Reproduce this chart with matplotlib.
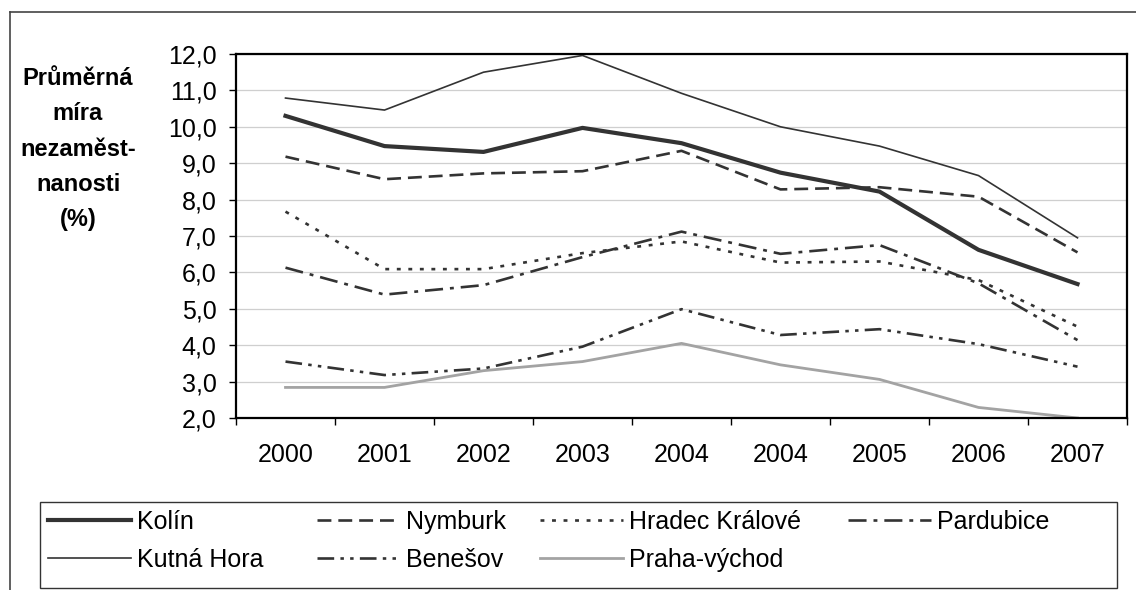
import matplotlib
matplotlib.use("Agg")
import matplotlib.pyplot as plt
from matplotlib.lines import Line2D
from matplotlib.patches import Rectangle
from matplotlib.ticker import FuncFormatter, FixedLocator

# ---- data ----
years = ["2000", "2001", "2002", "2003", "2004", "2004", "2005", "2006", "2007"]
kolin = [10.30, 9.47, 9.31, 9.97, 9.55, 8.74, 8.22, 6.62, 5.68]
kutna_hora = [10.79, 10.46, 11.50, 11.96, 10.92, 10.00, 9.47, 8.66, 6.95]
nymburk = [9.18, 8.56, 8.72, 8.78, 9.34, 8.28, 8.34, 8.08, 6.55]
benesov = [3.55, 3.18, 3.36, 3.96, 4.99, 4.28, 4.44, 4.03, 3.41]
hradec_kralove = [7.67, 6.09, 6.09, 6.53, 6.85, 6.27, 6.30, 5.79, 4.51]
praha_vychod = [2.84, 2.84, 3.30, 3.55, 4.05, 3.46, 3.06, 2.29, 2.00]
pardubice = [6.13, 5.39, 5.65, 6.42, 7.12, 6.51, 6.75, 5.70, 4.14]
y_ticks = [2, 3, 4, 5, 6, 7, 8, 9, 10, 11, 12]
y_label = "Průměrná\nmíra\nnezaměst-\nnanosti\n(%)"

plt.rcParams['font.family'] = ['Liberation Sans', 'DejaVu Sans']
plt.rcParams['lines.scale_dashes'] = False

W, H = 1136, 590
fig = plt.figure(figsize=(W / 100, H / 100), dpi=100)
fig.patch.set_facecolor('white')

ax = fig.add_axes([236 / W, 1 - 418 / H, (1127 - 236) / W, (418 - 54) / H])
x = list(range(len(years)))
dark = '#333333'

l_kolin, = ax.plot(x, kolin, color=dark, lw=3.0, solid_joinstyle='round', label='Kolín')
l_kutna, = ax.plot(x, kutna_hora, color=dark, lw=1.2, label='Kutná Hora')
l_nym, = ax.plot(x, nymburk, color=dark, lw=1.9, dashes=(10, 5), label='Nymburk')
l_ben, = ax.plot(x, benesov, color=dark, lw=1.9, dashes=(12, 4.5, 2.5, 4.5, 2.5, 4.5), label='Benešov')
l_hk, = ax.plot(x, hradec_kralove, color=dark, lw=1.9, dashes=(2.8, 5.5), label='Hradec Králové')
l_pv, = ax.plot(x, praha_vychod, color='#a3a3a3', lw=2.0, label='Praha-východ')
l_par, = ax.plot(x, pardubice, color=dark, lw=1.9, dashes=(13, 5, 2.8, 5), label='Pardubice')

ax.set_xlim(-0.5, len(years) - 0.5)
ax.set_ylim(2, 12)
ax.set_yticks(y_ticks)
ax.yaxis.set_major_formatter(FuncFormatter(lambda v, p: f"{v:.1f}".replace('.', ',')))
ax.set_xticks(x)
ax.set_xticklabels(years)
ax.xaxis.set_minor_locator(FixedLocator([i - 0.5 for i in range(len(years) + 1)]))
ax.tick_params(axis='x', which='major', length=0, pad=18, labelsize=18)
ax.tick_params(axis='x', which='minor', length=5, width=1, direction='out', color='black')
ax.tick_params(axis='y', which='major', length=5, width=1, direction='out', pad=9, labelsize=18, color='black')
ax.yaxis.grid(True, color='#cfcfcf', lw=0.9)
ax.set_axisbelow(True)
for s in ax.spines.values():
    s.set_linewidth(1.6)
    s.set_color('black')

fig.text(78 / W, 1 - 149 / H, y_label, ha='center', va='center', ma='center',
         fontsize=17, fontweight='bold', linespacing=1.68)

# outer chart frame (partially visible)
fig.add_artist(Line2D([10 / W, 10 / W], [0, 1 - 12 / H], transform=fig.transFigure, color='#444444', lw=1.2))
fig.add_artist(Line2D([10 / W, 1], [1 - 12 / H, 1 - 12 / H], transform=fig.transFigure, color='#444444', lw=1.2))

# legend frame
fig.add_artist(Rectangle((40 / W, 1 - 588 / H), (1117 - 40) / W, (588 - 502) / H,
                         transform=fig.transFigure, fill=False, ec='#333333', lw=1.0))

cols = [([l_kolin, l_kutna], 48), ([l_nym, l_ben], 317), ([l_hk, l_pv], 540), ([l_par], 848)]
for hs, xs in cols:
    fig.legend(handles=hs, loc='upper left', bbox_to_anchor=(xs / W, 1 - 510 / H),
               frameon=False, fontsize=18, handlelength=3.3, handletextpad=0.25,
               labelspacing=0.55, borderpad=0, borderaxespad=0)

fig.savefig('out.png', dpi=100, facecolor='white')
